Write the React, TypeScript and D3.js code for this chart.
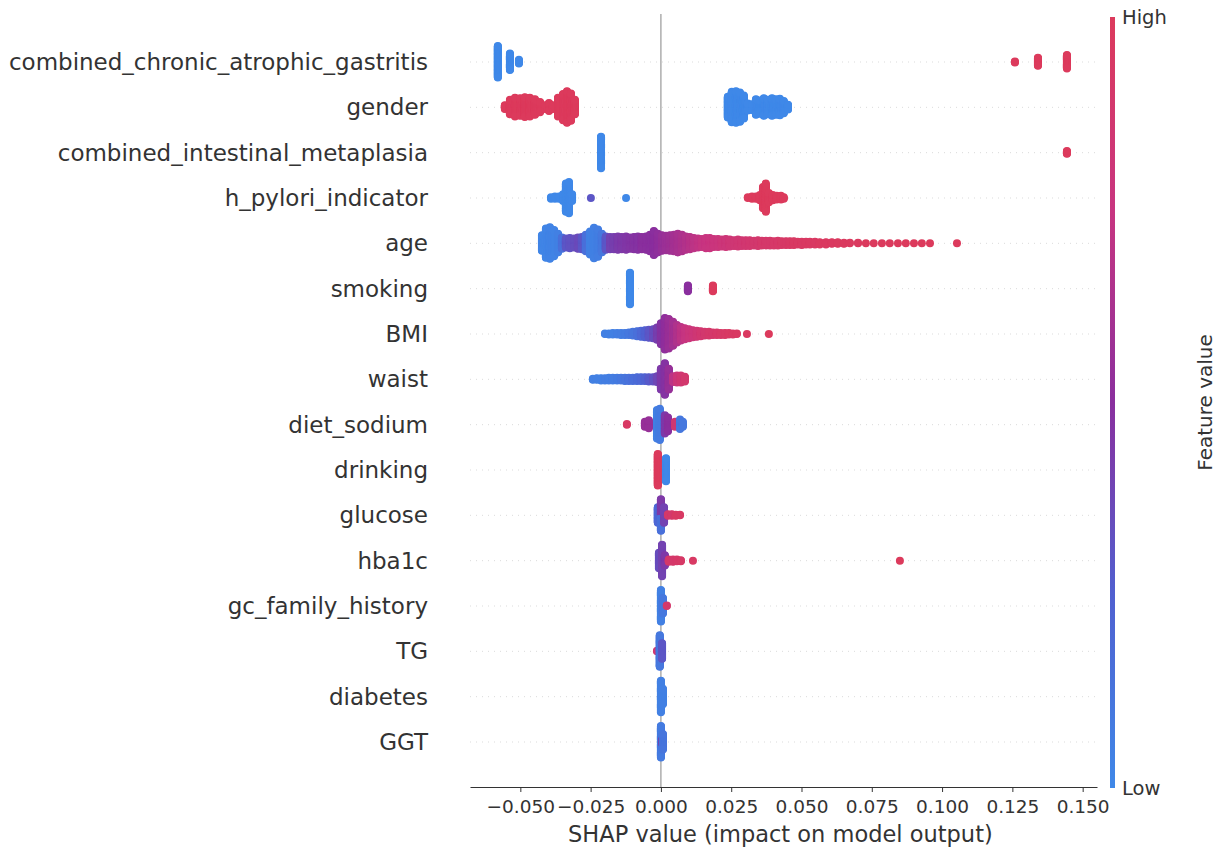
import * as d3 from "d3";
import { useEffect, useRef } from "react";

// [shap value, number of samples, feature value (0 = low, 1 = high)]
type Bin = [number, number, number];

const features = [
  "combined_chronic_atrophic_gastritis",
  "gender",
  "combined_intestinal_metaplasia",
  "h_pylori_indicator",
  "age",
  "smoking",
  "BMI",
  "waist",
  "diet_sodium",
  "drinking",
  "glucose",
  "hba1c",
  "gc_family_history",
  "TG",
  "diabetes",
  "GGT",
];

const atrophicBins: Bin[] = [
  [-0.058, 60, 0], [-0.0537, 32, 0], [-0.0505, 8, 0],
  [0.1259, 3, 1], [0.1341, 16, 1], [0.1444, 26, 1],
];

const genderBins: Bin[] = [
  [-0.0555, 8, 1], [-0.0537, 28, 1], [-0.0519, 36, 1], [-0.0501, 34, 1],
  [-0.0484, 38, 1], [-0.0466, 36, 1], [-0.0448, 30, 1], [-0.043, 20, 1],
  [-0.0412, 8, 1], [-0.0398, 16, 1], [-0.0384, 8, 1], [-0.0366, 36, 1],
  [-0.0348, 50, 1], [-0.0334, 60, 1], [-0.032, 52, 1], [-0.0306, 28, 1],
  [0.0238, 40, 0], [0.0252, 58, 0], [0.0267, 60, 0], [0.0281, 56, 0],
  [0.0295, 44, 0], [0.0309, 14, 0], [0.0324, 12, 0], [0.0338, 30, 0],
  [0.0352, 26, 0], [0.0366, 34, 0], [0.038, 28, 0], [0.0395, 34, 0],
  [0.0409, 30, 0], [0.0423, 32, 0], [0.0437, 24, 0], [0.0452, 10, 0],
];

const metaplasiaBins: Bin[] = [
  [-0.0213, 60, 0], [0.1444, 6, 1],
];

const pyloriBins: Bin[] = [
  [-0.0391, 3, 0], [-0.0377, 4, 0], [-0.0363, 4, 0], [-0.0348, 10, 0],
  [-0.0338, 40, 0], [-0.0327, 44, 0], [-0.0316, 10, 0],
  [-0.0249, 1, 0.3], [-0.0124, 1, 0],
  [0.0309, 2, 1], [0.0324, 4, 1], [0.0338, 4, 1], [0.0352, 8, 1],
  [0.0363, 30, 1], [0.0373, 40, 1], [0.0384, 14, 1], [0.0398, 8, 1],
  [0.0412, 6, 1], [0.0427, 6, 1], [0.0437, 3, 1],
];

const ageBins: Bin[] = [
  [-0.0423, 30, 0.02], [-0.0409, 56, 0.02], [-0.0395, 60, 0.03], [-0.038, 50, 0.03],
  [-0.0366, 36, 0.05], [-0.0352, 22, 0.15], [-0.0338, 18, 0.3], [-0.0324, 20, 0.32],
  [-0.0309, 18, 0.34], [-0.0295, 22, 0.36], [-0.0281, 24, 0.3], [-0.0267, 32, 0.15],
  [-0.0252, 44, 0.05], [-0.0238, 58, 0.05], [-0.0224, 52, 0.06], [-0.021, 36, 0.1],
  [-0.0196, 26, 0.3], [-0.0181, 24, 0.4], [-0.0167, 24, 0.42], [-0.0153, 26, 0.44],
  [-0.0139, 24, 0.45], [-0.0124, 26, 0.46], [-0.011, 22, 0.47], [-0.0096, 24, 0.48],
  [-0.0082, 26, 0.48], [-0.0068, 24, 0.5], [-0.0053, 26, 0.5], [-0.0039, 32, 0.5],
  [-0.0025, 46, 0.5], [-0.0011, 36, 0.52], [0.0004, 30, 0.55], [0.0018, 28, 0.57],
  [0.0032, 30, 0.58], [0.0046, 32, 0.6], [0.006, 36, 0.62], [0.0075, 32, 0.64],
  [0.0089, 26, 0.66], [0.0103, 24, 0.68], [0.0117, 20, 0.7], [0.0132, 18, 0.72],
  [0.0146, 16, 0.74], [0.016, 20, 0.75], [0.0174, 20, 0.76], [0.0188, 16, 0.77],
  [0.0203, 16, 0.78], [0.0217, 14, 0.8], [0.0231, 16, 0.8], [0.0245, 14, 0.82],
  [0.026, 12, 0.83], [0.0274, 14, 0.84], [0.0288, 12, 0.85], [0.0302, 12, 0.86],
  [0.0316, 12, 0.87], [0.0331, 10, 0.88], [0.0345, 12, 0.88], [0.0359, 10, 0.9],
  [0.0373, 10, 0.9], [0.0388, 10, 0.9], [0.0402, 9, 0.92], [0.0416, 10, 0.92],
  [0.043, 8, 0.93], [0.0445, 8, 0.93], [0.0459, 8, 0.94], [0.0473, 8, 0.95],
  [0.0487, 6, 0.95], [0.0501, 7, 0.95], [0.0516, 6, 0.96], [0.053, 6, 0.96],
  [0.0548, 6, 0.96], [0.0565, 5, 0.97], [0.0587, 5, 0.97], [0.0608, 4, 0.97],
  [0.0629, 4, 0.98], [0.0651, 3, 0.98], [0.0672, 2, 0.98], [0.0701, 2, 0.98],
  [0.0729, 1, 0.99], [0.0757, 1, 0.99], [0.0786, 1, 0.99], [0.0814, 1, 0.99],
  [0.0843, 1, 1], [0.0871, 1, 1], [0.09, 1, 1], [0.0928, 1, 1],
  [0.0957, 1, 1], [0.1053, 1, 1],
];

const smokingBins: Bin[] = [
  [-0.011, 60, 0], [0.0096, 12, 0.5], [0.0185, 12, 1],
];

const bmiBins: Bin[] = [
  [-0.0199, 2, 0.05], [-0.0185, 3, 0.05], [-0.0171, 4, 0.05], [-0.0156, 4, 0.06],
  [-0.0142, 5, 0.07], [-0.0128, 5, 0.08], [-0.0114, 6, 0.1], [-0.01, 8, 0.12],
  [-0.0085, 10, 0.15], [-0.0071, 12, 0.2], [-0.0057, 14, 0.25], [-0.0043, 16, 0.3],
  [-0.0028, 18, 0.35], [-0.0014, 24, 0.42], [0.0, 40, 0.48], [0.0014, 60, 0.52],
  [0.0028, 56, 0.56], [0.0043, 46, 0.6], [0.0057, 34, 0.65], [0.0071, 26, 0.7],
  [0.0085, 22, 0.74], [0.01, 18, 0.78], [0.0114, 14, 0.8], [0.0128, 12, 0.83],
  [0.0142, 10, 0.86], [0.0156, 8, 0.88], [0.0171, 8, 0.9], [0.0185, 6, 0.9],
  [0.0199, 6, 0.92], [0.0213, 5, 0.93], [0.0228, 5, 0.94], [0.0242, 4, 0.95],
  [0.0256, 3, 0.95], [0.027, 2, 0.96], [0.0306, 1, 0.97], [0.0384, 1, 1],
];

const waistBins: Bin[] = [
  [-0.0242, 3, 0.05], [-0.0228, 4, 0.05], [-0.0213, 5, 0.05], [-0.0199, 5, 0.06],
  [-0.0185, 6, 0.06], [-0.0171, 6, 0.07], [-0.0156, 6, 0.08], [-0.0142, 6, 0.1],
  [-0.0128, 7, 0.12], [-0.0114, 7, 0.14], [-0.01, 7, 0.16], [-0.0085, 8, 0.18],
  [-0.0071, 8, 0.2], [-0.0057, 8, 0.24], [-0.0043, 9, 0.28], [-0.0028, 9, 0.32],
  [-0.0014, 12, 0.38], [0.0, 40, 0.45], [0.0014, 60, 0.48], [0.0028, 40, 0.55],
  [0.0043, 12, 0.7], [0.0057, 14, 0.8], [0.0071, 14, 0.85], [0.0085, 10, 0.88],
];

const sodiumBins: Bin[] = [
  [-0.0121, 2, 0.95], [-0.0057, 8, 0.55], [-0.0043, 12, 0.55],
  [-0.0014, 40, 0.05], [-0.0004, 44, 0.08], [0.0014, 26, 0.45], [0.0025, 20, 0.5],
  [0.005, 8, 0.85], [0.0068, 14, 0.1], [0.0078, 8, 0.1],
];

const drinkingBins: Bin[] = [
  [-0.0011, 60, 1], [0.0018, 44, 0],
];

const glucoseBins: Bin[] = [
  [-0.0011, 30, 0.2], [0.0, 30, 0.15], [0.0, 30, 0.45], [0.0011, 30, 0.4],
  [0.0025, 4, 0.9], [0.0039, 4, 0.9], [0.0053, 3, 0.95], [0.0068, 2, 0.95],
];

const hba1cBins: Bin[] = [
  [-0.0007, 30, 0.35], [0.0004, 60, 0.4], [0.0014, 20, 0.45],
  [0.0028, 5, 0.9], [0.0043, 5, 0.9], [0.0057, 4, 0.92], [0.0071, 3, 0.93],
  [0.0114, 1, 0.95], [0.085, 1, 1],
];

const familyBins: Bin[] = [
  [0.0, 60, 0.05], [0.0007, 30, 0.1], [0.0021, 2, 0.9],
];

const tgBins: Bin[] = [
  [-0.0014, 2, 0.85], [-0.0004, 60, 0.1], [0.0004, 30, 0.3],
];

const diabetesBins: Bin[] = [
  [0.0, 60, 0.05], [0.0007, 30, 0.05],
];

const ggtBins: Bin[] = [
  [0.0, 60, 0.08], [0.0004, 8, 0.45], [0.0007, 30, 0.12],
];

const featureBins: Bin[][] = [
  atrophicBins, genderBins, metaplasiaBins, pyloriBins, ageBins, smokingBins,
  bmiBins, waistBins, sodiumBins, drinkingBins, glucoseBins, hba1cBins,
  familyBins, tgBins, diabetesBins, ggtBins,
];

const xTicks = [-0.05, -0.025, 0, 0.025, 0.05, 0.075, 0.1, 0.125, 0.15];

const colorStops = ["#3f88e8", "#5060d0", "#8a2f9e", "#c83580", "#dc3a5c"];

const W = 1226;
const H = 858;
const font = "DejaVu Sans, sans-serif";
const textColor = "#333333";

const x = d3.scaleLinear().domain([-0.0679, 0.1551]).range([470, 1097]);
const y = d3.scaleLinear().domain([0, features.length - 1]).range([62, 742]);
const color = d3
  .scaleLinear<string>()
  .domain(d3.range(colorStops.length).map((i) => i / (colorStops.length - 1)))
  .range(colorStops)
  .interpolate(d3.interpolateRgb);

const maxSpread = 16; // px, half-height of the widest stack
const dotR = 4;

// stack the samples of each bin up and down from the row line (like shap's beeswarm)
function swarm(bins: Bin[]) {
  const groups = d3.group(bins, (b) => b[0]);
  const stacks: { shap: number; vals: number[] }[] = [];
  let maxLayer = 0;
  groups.forEach((entries, shap) => {
    const left = entries.map((e) => e[1]);
    const vals: number[] = [];
    while (left.some((n) => n > 0)) {
      entries.forEach((e, i) => {
        if (left[i] > 0) {
          vals.push(e[2]);
          left[i]--;
        }
      });
    }
    stacks.push({ shap, vals });
    maxLayer = Math.max(maxLayer, Math.ceil((vals.length - 1) / 2));
  });
  const step = maxLayer > 0 ? maxSpread / maxLayer : 0;
  const pts: { cx: number; dy: number; v: number }[] = [];
  stacks.forEach((s) => {
    s.vals.forEach((v, k) => {
      const layer = Math.ceil(k / 2) * (k % 2 === 1 ? 1 : -1);
      pts.push({ cx: x(s.shap), dy: -layer * step, v });
    });
  });
  return pts;
}

export default function App() {
  const axisRef = useRef<SVGGElement | null>(null);

  useEffect(() => {
    if (!axisRef.current) return;
    const g = d3.select(axisRef.current);
    g.selectAll("*").remove();
    g.call(
      d3
        .axisBottom(x)
        .tickValues(xTicks)
        .tickFormat(d3.format(".3f") as any)
        .tickSize(5)
        .tickSizeOuter(0)
    );
    g.select(".domain").attr("stroke", textColor).attr("stroke-width", 1.1);
    g.selectAll(".tick line").attr("stroke", textColor);
    g.selectAll(".tick text")
      .attr("fill", textColor)
      .attr("dy", "0.95em")
      .style("font-family", font)
      .style("font-size", "18.5px");
  }, []);

  const barX = 1110;
  const barTop = 17;
  const barBottom = 788;

  return (
    <svg
      width={W}
      height={H}
      style={{ position: "absolute", left: 0, top: 0, background: "#fff" }}
    >
      <defs>
        <linearGradient id="fv" x1="0" y1="1" x2="0" y2="0">
          {colorStops.map((c, i) => (
            <stop key={i} offset={i / (colorStops.length - 1)} stopColor={c} />
          ))}
        </linearGradient>
      </defs>

      {features.map((f, i) => (
        <line
          key={"grid" + f}
          x1={470}
          x2={1097}
          y1={y(i)}
          y2={y(i)}
          stroke="#cccccc"
          strokeWidth={0.7}
          strokeDasharray="1 5"
        />
      ))}

      <line x1={x(0)} x2={x(0)} y1={14} y2={787} stroke="#999999" strokeWidth={1.2} />

      {featureBins.map((bins, i) => (
        <g key={"row" + i} transform={`translate(0,${y(i)})`}>
          {swarm(bins).map((p, k) => (
            <circle key={k} cx={p.cx} cy={p.dy} r={dotR} fill={color(p.v)} />
          ))}
        </g>
      ))}

      {features.map((f, i) => (
        <text
          key={"lab" + f}
          x={428}
          y={y(i)}
          textAnchor="end"
          dominantBaseline="central"
          fill={textColor}
          style={{ fontFamily: font, fontSize: "23px" }}
        >
          {f}
        </text>
      ))}

      <g ref={axisRef} transform="translate(0,787)" />

      <text
        x={x(0.0425)}
        y={842}
        textAnchor="middle"
        fill={textColor}
        style={{ fontFamily: font, fontSize: "22.5px" }}
      >
        SHAP value (impact on model output)
      </text>

      <rect x={barX} y={barTop} width={5} height={barBottom - barTop} fill="url(#fv)" />
      <text
        x={barX + 12}
        y={barTop}
        dominantBaseline="central"
        fill={textColor}
        style={{ fontFamily: font, fontSize: "19.5px" }}
      >
        High
      </text>
      <text
        x={barX + 12}
        y={barBottom}
        dominantBaseline="central"
        fill={textColor}
        style={{ fontFamily: font, fontSize: "19.5px" }}
      >
        Low
      </text>
      <text
        transform={`translate(1205,${(barTop + barBottom) / 2}) rotate(-90)`}
        textAnchor="middle"
        dominantBaseline="central"
        fill={textColor}
        style={{ fontFamily: font, fontSize: "20px" }}
      >
        Feature value
      </text>
    </svg>
  );
}
